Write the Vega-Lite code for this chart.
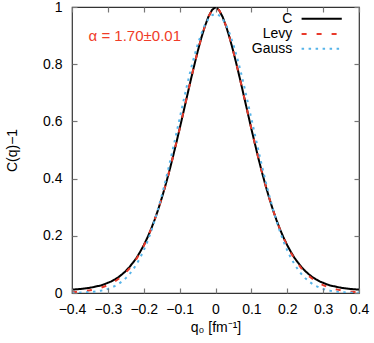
{
  "$schema": "https://vega.github.io/schema/vega-lite/v6.json",
  "width": 287,
  "height": 286,
  "autosize": {"type": "none"},
  "padding": {"left": 72, "top": 7, "right": 15, "bottom": 50},
  "config": {
    "font": "Liberation Sans",
    "view": {"stroke": "#333", "strokeWidth": 1.2, "fill": null},
    "axis": {"labelFont": "Liberation Sans", "titleFont": "Liberation Sans", "labelFontSize": 14, "titleFontSize": 14, "titleFontWeight": "normal", "labelColor": "black", "titleColor": "black", "grid": false, "domain": false, "ticks": true, "tickColor": "#777", "tickOpacity": 1, "tickSize": 5, "offset": -5, "tickWidth": 1.2, "labelFlush": false, "labelOverlap": false, "zindex": 1},
    "text": {"font": "Liberation Sans", "fontSize": 14, "baseline": "middle"}
  },
  "resolve": {"axis": {"x": "independent", "y": "independent"}},
  "data": {
    "values": [
      {"q": -0.40, "C": 0.0119, "Levy": 0.0029, "Gauss": 0.0005},
      {"q": -0.39, "C": 0.0127, "Levy": 0.0037, "Gauss": 0.0008},
      {"q": -0.38, "C": 0.0137, "Levy": 0.0047, "Gauss": 0.0011},
      {"q": -0.37, "C": 0.0149, "Levy": 0.0059, "Gauss": 0.0016},
      {"q": -0.36, "C": 0.0165, "Levy": 0.0075, "Gauss": 0.0022},
      {"q": -0.35, "C": 0.0184, "Levy": 0.0094, "Gauss": 0.0031},
      {"q": -0.34, "C": 0.0208, "Levy": 0.0118, "Gauss": 0.0043},
      {"q": -0.33, "C": 0.0237, "Levy": 0.0147, "Gauss": 0.0059},
      {"q": -0.32, "C": 0.0262, "Levy": 0.0182, "Gauss": 0.0080},
      {"q": -0.31, "C": 0.0305, "Levy": 0.0225, "Gauss": 0.0107},
      {"q": -0.30, "C": 0.0357, "Levy": 0.0277, "Gauss": 0.0143},
      {"q": -0.29, "C": 0.0407, "Levy": 0.0337, "Gauss": 0.0189},
      {"q": -0.28, "C": 0.0480, "Levy": 0.0410, "Gauss": 0.0247},
      {"q": -0.27, "C": 0.0557, "Levy": 0.0497, "Gauss": 0.0319},
      {"q": -0.26, "C": 0.0659, "Levy": 0.0599, "Gauss": 0.0409},
      {"q": -0.25, "C": 0.0769, "Levy": 0.0719, "Gauss": 0.0520},
      {"q": -0.24, "C": 0.0907, "Levy": 0.0857, "Gauss": 0.0654},
      {"q": -0.23, "C": 0.106, "Levy": 0.102, "Gauss": 0.0816},
      {"q": -0.22, "C": 0.123, "Levy": 0.120, "Gauss": 0.101},
      {"q": -0.21, "C": 0.144, "Levy": 0.141, "Gauss": 0.123},
      {"q": -0.20, "C": 0.167, "Levy": 0.165, "Gauss": 0.149},
      {"q": -0.19, "C": 0.193, "Levy": 0.192, "Gauss": 0.179},
      {"q": -0.18, "C": 0.222, "Levy": 0.222, "Gauss": 0.213},
      {"q": -0.17, "C": 0.255, "Levy": 0.255, "Gauss": 0.252},
      {"q": -0.16, "C": 0.291, "Levy": 0.291, "Gauss": 0.294},
      {"q": -0.15, "C": 0.331, "Levy": 0.331, "Gauss": 0.340},
      {"q": -0.14, "C": 0.374, "Levy": 0.374, "Gauss": 0.389},
      {"q": -0.13, "C": 0.420, "Levy": 0.420, "Gauss": 0.442},
      {"q": -0.12, "C": 0.469, "Levy": 0.469, "Gauss": 0.497},
      {"q": -0.11, "C": 0.521, "Levy": 0.521, "Gauss": 0.553},
      {"q": -0.10, "C": 0.574, "Levy": 0.574, "Gauss": 0.610},
      {"q": -0.09, "C": 0.629, "Levy": 0.629, "Gauss": 0.667},
      {"q": -0.08, "C": 0.684, "Levy": 0.684, "Gauss": 0.723},
      {"q": -0.07, "C": 0.739, "Levy": 0.739, "Gauss": 0.776},
      {"q": -0.06, "C": 0.792, "Levy": 0.792, "Gauss": 0.824},
      {"q": -0.05, "C": 0.843, "Levy": 0.843, "Gauss": 0.868},
      {"q": -0.04, "C": 0.890, "Levy": 0.890, "Gauss": 0.905},
      {"q": -0.03, "C": 0.931, "Levy": 0.931, "Gauss": 0.936},
      {"q": -0.02, "C": 0.965, "Levy": 0.965, "Gauss": 0.958},
      {"q": -0.01, "C": 0.989, "Levy": 0.989, "Gauss": 0.971},
      {"q": 0.00, "C": 1.0, "Levy": 1.0, "Gauss": 0.976},
      {"q": 0.01, "C": 0.989, "Levy": 0.989, "Gauss": 0.971},
      {"q": 0.02, "C": 0.965, "Levy": 0.965, "Gauss": 0.958},
      {"q": 0.03, "C": 0.931, "Levy": 0.931, "Gauss": 0.936},
      {"q": 0.04, "C": 0.890, "Levy": 0.890, "Gauss": 0.905},
      {"q": 0.05, "C": 0.843, "Levy": 0.843, "Gauss": 0.868},
      {"q": 0.06, "C": 0.792, "Levy": 0.792, "Gauss": 0.824},
      {"q": 0.07, "C": 0.739, "Levy": 0.739, "Gauss": 0.776},
      {"q": 0.08, "C": 0.684, "Levy": 0.684, "Gauss": 0.723},
      {"q": 0.09, "C": 0.629, "Levy": 0.629, "Gauss": 0.667},
      {"q": 0.10, "C": 0.574, "Levy": 0.574, "Gauss": 0.610},
      {"q": 0.11, "C": 0.521, "Levy": 0.521, "Gauss": 0.553},
      {"q": 0.12, "C": 0.469, "Levy": 0.469, "Gauss": 0.497},
      {"q": 0.13, "C": 0.420, "Levy": 0.420, "Gauss": 0.442},
      {"q": 0.14, "C": 0.374, "Levy": 0.374, "Gauss": 0.389},
      {"q": 0.15, "C": 0.331, "Levy": 0.331, "Gauss": 0.340},
      {"q": 0.16, "C": 0.291, "Levy": 0.291, "Gauss": 0.294},
      {"q": 0.17, "C": 0.255, "Levy": 0.255, "Gauss": 0.252},
      {"q": 0.18, "C": 0.222, "Levy": 0.222, "Gauss": 0.213},
      {"q": 0.19, "C": 0.193, "Levy": 0.192, "Gauss": 0.179},
      {"q": 0.20, "C": 0.167, "Levy": 0.165, "Gauss": 0.149},
      {"q": 0.21, "C": 0.144, "Levy": 0.141, "Gauss": 0.123},
      {"q": 0.22, "C": 0.123, "Levy": 0.120, "Gauss": 0.101},
      {"q": 0.23, "C": 0.106, "Levy": 0.102, "Gauss": 0.0816},
      {"q": 0.24, "C": 0.0907, "Levy": 0.0857, "Gauss": 0.0654},
      {"q": 0.25, "C": 0.0769, "Levy": 0.0719, "Gauss": 0.0520},
      {"q": 0.26, "C": 0.0659, "Levy": 0.0599, "Gauss": 0.0409},
      {"q": 0.27, "C": 0.0557, "Levy": 0.0497, "Gauss": 0.0319},
      {"q": 0.28, "C": 0.0480, "Levy": 0.0410, "Gauss": 0.0247},
      {"q": 0.29, "C": 0.0407, "Levy": 0.0337, "Gauss": 0.0189},
      {"q": 0.30, "C": 0.0357, "Levy": 0.0277, "Gauss": 0.0143},
      {"q": 0.31, "C": 0.0305, "Levy": 0.0225, "Gauss": 0.0107},
      {"q": 0.32, "C": 0.0262, "Levy": 0.0182, "Gauss": 0.0080},
      {"q": 0.33, "C": 0.0237, "Levy": 0.0147, "Gauss": 0.0059},
      {"q": 0.34, "C": 0.0208, "Levy": 0.0118, "Gauss": 0.0043},
      {"q": 0.35, "C": 0.0184, "Levy": 0.0094, "Gauss": 0.0031},
      {"q": 0.36, "C": 0.0165, "Levy": 0.0075, "Gauss": 0.0022},
      {"q": 0.37, "C": 0.0149, "Levy": 0.0059, "Gauss": 0.0016},
      {"q": 0.38, "C": 0.0137, "Levy": 0.0047, "Gauss": 0.0011},
      {"q": 0.39, "C": 0.0127, "Levy": 0.0037, "Gauss": 0.0008},
      {"q": 0.40, "C": 0.0119, "Levy": 0.0029, "Gauss": 0.0005}
    ]
  },
  "layer": [
    {
      "transform": [{"fold": ["C", "Levy", "Gauss"], "as": ["series", "value"]}],
      "mark": {"type": "line", "strokeWidth": 2, "clip": true},
      "encoding": {
        "x": {"field": "q", "type": "quantitative", "scale": {"domain": [-0.4, 0.4], "nice": false, "zero": false}, "axis": {"title": "q₀ [fm⁻¹]", "values": [-0.4, -0.3, -0.2, -0.1, 0, 0.1, 0.2, 0.3, 0.4], "format": "~g", "labelPadding": 9, "titlePadding": 4, "zindex": 1, "ticks": true, "tickSize": 5, "tickColor": "#777", "offset": -5}},
        "y": {"field": "value", "type": "quantitative", "scale": {"domain": [0, 1], "nice": false}, "axis": {"title": "C(q)−1", "values": [0, 0.2, 0.4, 0.6, 0.8, 1], "format": "~g", "labelPadding": 10, "titlePadding": 23, "zindex": 1, "ticks": true, "tickSize": 5, "tickColor": "#777", "offset": -5}},
        "color": {"field": "series", "type": "nominal", "scale": {"domain": ["C", "Levy", "Gauss"], "range": ["#000000", "#e8392a", "#56b4e9"]}, "legend": null},
        "strokeDash": {"field": "series", "type": "nominal", "scale": {"domain": ["C", "Levy", "Gauss"], "range": [[1, 0], [5, 10], [2.5, 4.5]]}, "legend": null},
        "order": {"field": "q", "type": "quantitative"}
      }
    },
    {
      "data": {"values": [{"label": "α = 1.70±0.01"}]},
      "mark": {"type": "text", "color": "#f03c28", "fontSize": 15, "align": "center"},
      "encoding": {
        "text": {"field": "label"},
        "x": {"datum": -0.225, "axis": {"orient": "top", "labels": false, "title": null, "values": [-0.4, -0.3, -0.2, -0.1, 0, 0.1, 0.2, 0.3, 0.4], "zindex": 1, "ticks": true, "tickSize": 5, "tickColor": "#777", "offset": -5}},
        "y": {"datum": 0.897, "axis": {"orient": "right", "labels": false, "title": null, "values": [0, 0.2, 0.4, 0.6, 0.8, 1], "zindex": 1, "ticks": true, "tickSize": 5, "tickColor": "#777", "offset": -5}}
      }
    },
    {
      "data": {"values": [{"label": "C"}]},
      "mark": {"type": "text", "color": "black", "align": "right"},
      "encoding": {"text": {"field": "label"}, "x": {"datum": 0.214, "axis": null}, "y": {"datum": 0.959, "axis": null}}
    },
    {
      "data": {"values": [{"label": "Levy"}]},
      "mark": {"type": "text", "color": "black", "align": "right"},
      "encoding": {"text": {"field": "label"}, "x": {"datum": 0.214, "axis": null}, "y": {"datum": 0.906, "axis": null}}
    },
    {
      "data": {"values": [{"label": "Gauss"}]},
      "mark": {"type": "text", "color": "black", "align": "right"},
      "encoding": {"text": {"field": "label"}, "x": {"datum": 0.214, "axis": null}, "y": {"datum": 0.854, "axis": null}}
    },
    {
      "data": {"values": [{"series": "C"}]},
      "mark": {"type": "rule", "color": "#000000", "strokeWidth": 2},
      "encoding": {"x": {"datum": 0.240, "axis": null}, "x2": {"datum": 0.352}, "y": {"datum": 0.959, "axis": null}}
    },
    {
      "data": {"values": [{"series": "Levy"}]},
      "mark": {"type": "rule", "color": "#e8392a", "strokeWidth": 2, "strokeDash": [5, 10]},
      "encoding": {"x": {"datum": 0.240, "axis": null}, "x2": {"datum": 0.352}, "y": {"datum": 0.906, "axis": null}}
    },
    {
      "data": {"values": [{"series": "Gauss"}]},
      "mark": {"type": "rule", "color": "#56b4e9", "strokeWidth": 2, "strokeDash": [2.5, 4.5]},
      "encoding": {"x": {"datum": 0.240, "axis": null}, "x2": {"datum": 0.352}, "y": {"datum": 0.854, "axis": null}}
    }
  ]
}
